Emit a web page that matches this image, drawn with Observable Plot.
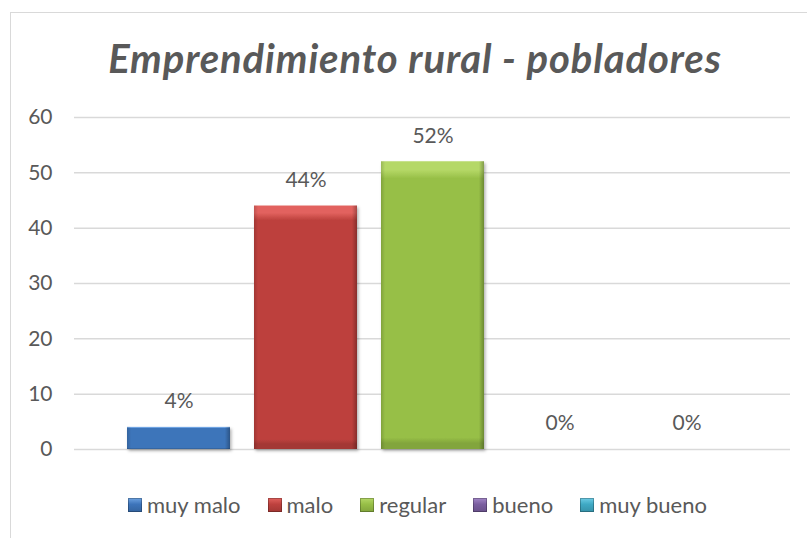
<!DOCTYPE html>
<html><head><meta charset="utf-8">
<script src="https://cdn.jsdelivr.net/npm/d3@7"></script>
<script src="https://cdn.jsdelivr.net/npm/@observablehq/plot@0.6"></script>
<style>
body{margin:0;background:#fff;}
#wrap{position:relative;width:807px;height:538px;overflow:hidden;font-family:Lato,"Open Sans",sans-serif;color:#595959;}
#border{position:absolute;left:10px;top:12px;width:840px;height:600px;border:1.5px solid #d9d9d9;box-sizing:border-box;}
#title{position:absolute;left:0;top:39px;width:830px;text-align:center;font-size:40px;line-height:38px;letter-spacing:0.9px;font-style:italic;font-weight:bold;color:#595959;white-space:nowrap;}
#chart{position:absolute;left:0;top:0;}
#legend{position:absolute;left:128px;top:494px;display:flex;gap:27px;font-size:22px;line-height:22px;color:#595959;}
#legend .it{display:flex;align-items:center;gap:5px;}
#legend .sw{width:14px;height:14px;box-shadow:inset 0 0 0 1px rgba(0,0,0,0.25);}
</style>
</head><body>
<div id="wrap">
  <div id="border"></div>
  <div id="chart"></div>
  <div id="title">Emprendimiento rural - pobladores</div>
  <div id="legend"></div>
</div>
<script>
const categories = ["muy malo", "malo", "regular", "bueno", "muy bueno"];
const values = [4, 44, 52, 0, 0];
const pctLabels = ["4%", "44%", "52%", "0%", "0%"];
const yTicks = [0, 10, 20, 30, 40, 50, 60];
const baseColors = ["#3d74ba", "#bd413e", "#97bf47", "#7b5fa0", "#3fa9c4"];
const lightColors = ["#6ea3e2", "#e2625e", "#b5d867", "#a387c8", "#6fcde6"];
const darkColors = ["#34649f", "#a33734", "#82a53c", "#69518a", "#3692a9"];

const data = categories.map((c, i) => ({cat: c, val: values[i], label: pctLabels[i]}));
const gradIds = categories.map((c, i) => `url(#g${i})`);

const chart = Plot.plot({
  width: 807,
  height: 538,
  marginTop: 117,
  marginBottom: 89,
  marginLeft: 74,
  marginRight: 17,
  style: {fontFamily: "Lato, 'Open Sans', sans-serif", fontSize: "21px", color: "#595959", background: "transparent"},
  x: {type: "band", domain: categories, padding: 0.19, insetLeft: 27, insetRight: 27, axis: null},
  y: {domain: [0, 60], axis: null},
  color: {domain: categories, range: gradIds},
  marks: [
    Plot.ruleY(yTicks, {stroke: "#d9d9d9", strokeWidth: 1.5}),
    Plot.axisY({ticks: yTicks, tickSize: 0, tickPadding: 22, label: null, fontSize: 21, fill: "#595959"}),
    Plot.barY(data, {x: "cat", y: "val", fill: "cat"}),
    Plot.barY(data, {x: "cat", y: "val", fill: "url(#side)"}),
    Plot.text(data, {x: "cat", y: "val", text: "label", dy: -26, lineAnchor: "middle", fontSize: 21, fill: "#595959"})
  ]
});

// gradient definitions for the bevelled bar look
const ns = "http://www.w3.org/2000/svg";
const defs = document.createElementNS(ns, "defs");
let html = "";
categories.forEach((c, i) => {
  html += `<linearGradient id="g${i}" x1="0" y1="0" x2="0" y2="1">
    <stop offset="0" stop-color="${lightColors[i]}"/>
    <stop offset="0.03" stop-color="${lightColors[i]}"/>
    <stop offset="0.06" stop-color="${baseColors[i]}"/>
    <stop offset="0.96" stop-color="${baseColors[i]}"/>
    <stop offset="0.98" stop-color="${darkColors[i]}"/>
    <stop offset="1" stop-color="${darkColors[i]}"/>
  </linearGradient>`;
});
html += `<linearGradient id="side" x1="0" y1="0" x2="1" y2="0">
    <stop offset="0" stop-color="#000" stop-opacity="0.15"/>
    <stop offset="0.04" stop-color="#000" stop-opacity="0"/>
    <stop offset="0.95" stop-color="#000" stop-opacity="0"/>
    <stop offset="1" stop-color="#000" stop-opacity="0.28"/>
  </linearGradient>
  <filter id="shadow" x="-10%" y="-10%" width="130%" height="130%">
    <feDropShadow dx="1.5" dy="2" stdDeviation="1.5" flood-color="#000" flood-opacity="0.3"/>
  </filter>`;
defs.innerHTML = html;
chart.insertBefore(defs, chart.firstChild);
const barGroups = chart.querySelectorAll('g[aria-label="bar"]');
if (barGroups.length) barGroups[0].setAttribute("filter", "url(#shadow)");

document.getElementById("chart").appendChild(chart);

// legend
const legend = document.getElementById("legend");
categories.forEach((c, i) => {
  const it = document.createElement("div");
  it.className = "it";
  const sw = document.createElement("span");
  sw.className = "sw";
  sw.style.background = `linear-gradient(180deg, ${lightColors[i]} 0%, ${baseColors[i]} 45%, ${darkColors[i]} 100%)`;
  const tx = document.createElement("span");
  tx.textContent = c;
  it.appendChild(sw);
  it.appendChild(tx);
  legend.appendChild(it);
});
</script>
</body></html>
